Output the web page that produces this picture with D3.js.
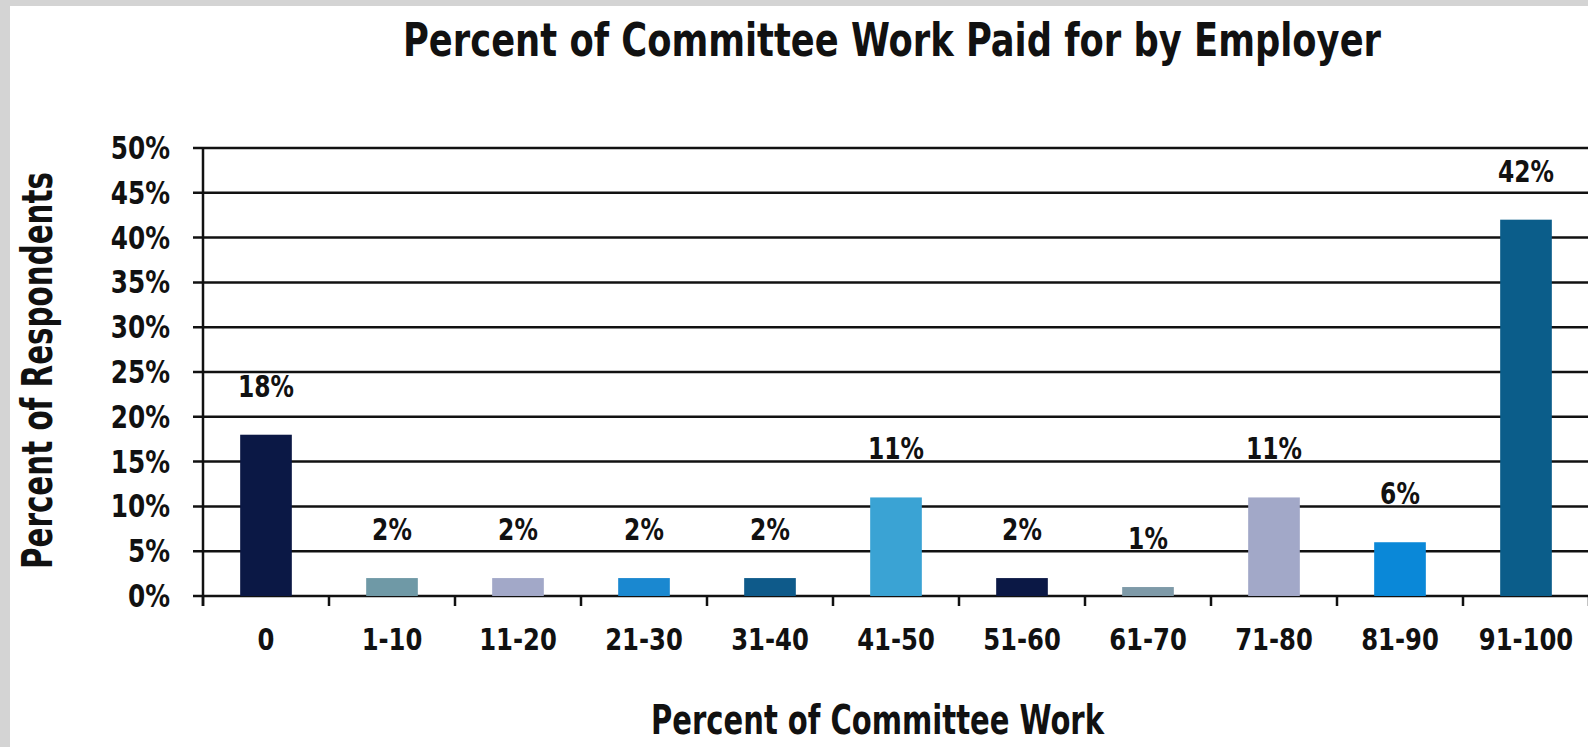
<!DOCTYPE html>
<html>
<head>
<meta charset="utf-8">
<script src="https://cdn.jsdelivr.net/npm/d3@7"></script>
<style>
  html, body { margin: 0; padding: 0; background: #fff; overflow: hidden; }
  svg { display: block; }
  text { font-family: "DejaVu Sans Condensed", "DejaVu Sans", sans-serif; fill: #111; }
</style>
</head>
<body>
<script>
const categories = ["0", "1-10", "11-20", "21-30", "31-40", "41-50", "51-60", "61-70", "71-80", "81-90", "91-100"];
const values = [18, 2, 2, 2, 2, 11, 2, 1, 11, 6, 42];
const barColors = ["#0b1845", "#6f99a6", "#a2a8c8", "#1a88d0", "#0e5a8a", "#3aa3d4", "#0b1845", "#7e9aa8", "#a2a8c8", "#0a88d8", "#0b5d8a"];
const yTicks = [0, 5, 10, 15, 20, 25, 30, 35, 40, 45, 50];
const title = "Percent of Committee Work Paid for by Employer";
const xTitle = "Percent of Committee Work";
const yTitle = "Percent of Respondents";

const W = 1588, H = 747;
const svg = d3.select("body").append("svg").attr("width", W).attr("height", H);

// frame
svg.append("rect").attr("width", W).attr("height", H).attr("fill", "#d4d4d4");
svg.append("rect").attr("x", 10).attr("y", 6).attr("width", W - 10).attr("height", H - 6).attr("fill", "#fff");

const x0 = 203, bandW = 126;
const x = d3.scaleBand().domain(categories).range([x0, x0 + bandW * categories.length]).paddingInner(0.59).paddingOuter(0.295);
const y = d3.scaleLinear().domain([0, 50]).range([596, 148]);

// condense helper: horizontal squeeze around anchor point
function condense(sel, f) {
  sel.each(function () {
    const t = d3.select(this);
    const ax = +t.attr("x");
    t.attr("transform", `translate(${ax},0) scale(${f},1) translate(${-ax},0)`);
  });
}

// gridlines
svg.append("g").selectAll("line").data(yTicks).join("line")
  .attr("x1", 193).attr("x2", W)
  .attr("y1", d => y(d)).attr("y2", d => y(d))
  .attr("stroke", "#111").attr("stroke-width", 2.5);

// y axis line
svg.append("line").attr("x1", x0).attr("x2", x0).attr("y1", y(50)).attr("y2", 606)
  .attr("stroke", "#111").attr("stroke-width", 2.5);

// bottom ticks at band boundaries
const bounds = d3.range(categories.length + 1).map(i => x0 + i * bandW);
svg.append("g").selectAll("line").data(bounds).join("line")
  .attr("x1", d => d).attr("x2", d => d).attr("y1", 596).attr("y2", 606)
  .attr("stroke", "#111").attr("stroke-width", 2.5);

// bars
svg.append("g").selectAll("rect").data(values).join("rect")
  .attr("x", (d, i) => x(categories[i]))
  .attr("width", x.bandwidth())
  .attr("y", d => y(d))
  .attr("height", d => y(0) - y(d))
  .attr("fill", (d, i) => barColors[i]);

// value labels
const vl = svg.append("g").selectAll("text").data(values).join("text")
  .attr("x", (d, i) => x(categories[i]) + x.bandwidth() / 2)
  .attr("y", d => y(d) - 38)
  .attr("text-anchor", "middle")
  .attr("font-size", 31).attr("font-weight", "bold")
  .text(d => d + "%");
condense(vl, 0.84);

// y tick labels
const yl = svg.append("g").selectAll("text").data(yTicks).join("text")
  .attr("x", 170).attr("y", d => y(d) + 11)
  .attr("text-anchor", "end")
  .attr("font-size", 32).attr("font-weight", "bold")
  .text(d => d + "%");
condense(yl, 0.86);

// x tick labels
const xl = svg.append("g").selectAll("text").data(categories).join("text")
  .attr("x", d => x(d) + x.bandwidth() / 2)
  .attr("y", 650)
  .attr("text-anchor", "middle")
  .attr("font-size", 31).attr("font-weight", "bold")
  .text(d => d);
condense(xl, 0.87);

// title
svg.append("text").attr("x", 403).attr("y", 56)
  .attr("font-size", 47).attr("font-weight", "bold")
  .attr("textLength", 978).attr("lengthAdjust", "spacingAndGlyphs")
  .text(title);

// x title
svg.append("text").attr("x", 651).attr("y", 734)
  .attr("font-size", 40).attr("font-weight", "bold")
  .attr("textLength", 453).attr("lengthAdjust", "spacingAndGlyphs")
  .text(xTitle);

// y title
svg.append("text").attr("transform", "translate(52,569) rotate(-90)")
  .attr("font-size", 42).attr("font-weight", "bold")
  .attr("textLength", 397).attr("lengthAdjust", "spacingAndGlyphs")
  .text(yTitle);
</script>
</body>
</html>
